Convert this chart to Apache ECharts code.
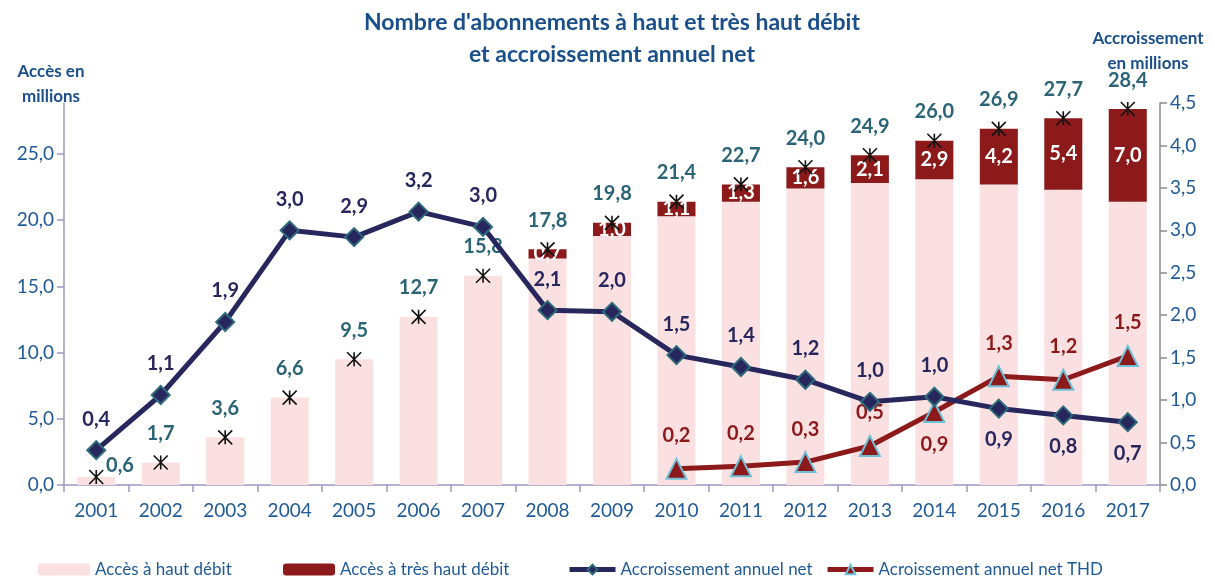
<!DOCTYPE html>
<html><head><meta charset="utf-8">
<script src="https://cdn.jsdelivr.net/npm/echarts@6/dist/echarts.min.js"></script>
<style>html,body{margin:0;padding:0;background:#fff}#c{width:1215px;height:586px}</style>
</head><body><div id="c"></div>
<script>
var years = ['2001','2002','2003','2004','2005','2006','2007','2008','2009','2010','2011','2012','2013','2014','2015','2016','2017'];
var hautDebit = [0.6,1.7,3.6,6.6,9.5,12.7,15.8,17.1,18.8,20.3,21.4,22.4,22.8,23.1,22.7,22.3,21.4];
var tresHautDebit = [null,null,null,null,null,null,null,0.7,1.0,1.1,1.3,1.6,2.1,2.9,4.2,5.4,7.0];
var totalAcces = [0.6,1.7,3.6,6.6,9.5,12.7,15.8,17.8,19.8,21.4,22.7,24.0,24.9,26.0,26.9,27.7,28.4];
var accroissement = [0.41,1.06,1.92,3.0,2.92,3.22,3.04,2.06,2.04,1.53,1.39,1.24,0.98,1.04,0.9,0.82,0.74];
var accroissementTHD = [null,null,null,null,null,null,null,null,null,0.19,0.22,0.27,0.46,0.86,1.28,1.24,1.52];
var leftTicks = [0,5,10,15,20,25];
var legendNames = ['Accès à haut débit','Accès à très haut débit','Accroissement annuel net','Acroissement annuel net THD'];

var FONT = 'Lato';
var BLUE = '#1f5a96';
var NAVY = '#27275e';
var RED = '#8c1a1a';
var TEAL = '#2a6476';
function fmt(v){ return (Math.round(v*10)/10).toFixed(1).replace('.', ','); }

var growthBelow = {'2015':1,'2016':1,'2017':1};
var thdBelow = {'2014':1};

var legendLeft = [33, 278, 562, 820];
var legendIconW = [52, 52, 46, 46];
function mkLegend(i){
  return {left:legendLeft[i], bottom:3, itemWidth:legendIconW[i], itemHeight:12, itemGap:0,
    lineStyle:{width:5}, textStyle:{fontFamily:FONT, fontSize:17, color:BLUE}, data:[legendNames[i]]};
}

var chart = echarts.init(document.getElementById('c'));
chart.setOption({
  animation:false,
  textStyle:{fontFamily:FONT},
  title:[
    {text:"Nombre d'abonnements à haut et très haut débit\net accroissement annuel net", left:607, top:2,
     textAlign:'center',
     textStyle:{fontFamily:FONT, fontWeight:'bold', fontSize:23, color:'#1a4f8a', lineHeight:32, align:'center'}},
    {text:'Accès en\nmillions', left:46, top:54, textAlign:'center', textStyle:{fontFamily:FONT, fontWeight:'bold', fontSize:17, color:'#1a4f8a', lineHeight:25, align:'center'}},
    {text:'Accroissement\nen millions', left:1143, top:21, textAlign:'center', textStyle:{fontFamily:FONT, fontWeight:'bold', fontSize:17, color:'#1a4f8a', lineHeight:25, align:'center'}}
  ],
  legend:[mkLegend(0), mkLegend(1), mkLegend(2), mkLegend(3)],
  grid:{left:64, right:55, top:103, bottom:101},
  xAxis:{
    type:'category', data:years,
    axisLine:{lineStyle:{color:'#9b97c2', width:1.5}},
    axisTick:{show:true, length:7, lineStyle:{color:'#9b97c2', width:1.5}},
    axisLabel:{fontFamily:FONT, fontSize:19, color:BLUE, margin:16}
  },
  yAxis:[
    {type:'value', min:0, max:28.85, interval:5, position:'left',
     splitLine:{show:false},
     axisLine:{show:true, lineStyle:{color:'#9b97c2', width:1.5}},
     axisTick:{show:true, length:7, customValues:leftTicks, lineStyle:{color:'#9b97c2', width:1.5}},
     axisLabel:{fontFamily:FONT, fontSize:19, color:BLUE, margin:10, customValues:leftTicks, formatter:fmt}},
    {type:'value', min:0, max:4.5, interval:0.5, position:'right',
     splitLine:{show:false},
     axisLine:{show:true, lineStyle:{color:'#8c8c8c', width:1.5}},
     axisTick:{show:true, length:7, lineStyle:{color:'#8c8c8c', width:1.5}},
     axisLabel:{fontFamily:FONT, fontSize:19, color:BLUE, margin:10, formatter:fmt}}
  ],
  series:[
    {name:'Accès à haut débit', type:'bar', stack:'acces', data:hautDebit, barWidth:'59%',
     itemStyle:{color:'#fae0e1'}, z:1},
    {name:'Accès à très haut débit', type:'bar', stack:'acces', data:tresHautDebit, barWidth:'59%',
     itemStyle:{color:RED}, z:1,
     label:{show:true, position:'inside', color:'#fff', fontFamily:FONT, fontWeight:'bold', fontSize:20,
            formatter:function(p){return fmt(p.value);}}},
    {name:'Total', type:'scatter', data:totalAcces.map(function(v,i){
        return i===0 ? {value:v, label:{position:'right', distance:2, offset:[0,-12]}} : {value:v};
      }),
     symbol:'path://M0,0L10,10M10,0L0,10M5,0L5,10', symbolSize:14,
     itemStyle:{color:'rgba(0,0,0,0)', borderColor:'#111', borderWidth:1.6, opacity:1}, z:3,
     label:{show:true, position:'top', distance:11, color:TEAL, fontFamily:FONT, fontWeight:'bold', fontSize:20,
            formatter:function(p){return fmt(p.value);}}},
    {name:'Accroissement annuel net', type:'line', yAxisIndex:1,
     data:accroissement.map(function(v,i){
        return {value:v, label:{position: growthBelow[years[i]] ? 'bottom' : 'top'}};
      }),
     symbol:'diamond', symbolSize:18,
     lineStyle:{color:NAVY, width:5}, itemStyle:{color:NAVY, borderColor:'#2d6a7a', borderWidth:2}, z:5,
     label:{show:true, distance:11, color:NAVY, fontFamily:FONT, fontWeight:'bold', fontSize:20,
            formatter:function(p){return fmt(p.value);}}},
    {name:'Acroissement annuel net THD', type:'line', yAxisIndex:1,
     data:accroissementTHD.map(function(v,i){
        return {value:v, label:{position: thdBelow[years[i]] ? 'bottom' : 'top'}};
      }),
     symbol:'triangle', symbolSize:20,
     lineStyle:{color:RED, width:5}, itemStyle:{color:RED, borderColor:'#6fc0d6', borderWidth:2}, z:4,
     label:{show:true, distance:12, color:RED, fontFamily:FONT, fontWeight:'bold', fontSize:20,
            formatter:function(p){return p.value==null?'':fmt(p.value);}}}
  ]
});
</script></body></html>
